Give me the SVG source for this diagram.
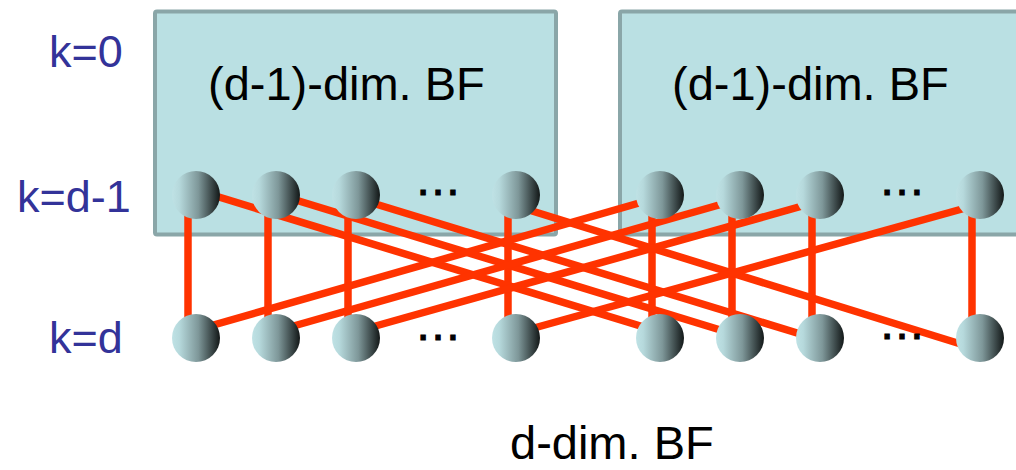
<svg xmlns="http://www.w3.org/2000/svg" width="1016" height="470" viewBox="0 0 1016 470">
<defs>
<linearGradient id="ball" x1="0" y1="0" x2="1" y2="0">
<stop offset="0" stop-color="#bfe2e5"/>
<stop offset="0.15" stop-color="#b6d9dc"/>
<stop offset="0.55" stop-color="#7e9799"/>
<stop offset="1" stop-color="#121717"/>
</linearGradient>
<style>
.box{fill:#bae0e3;stroke:#8aa6a8;stroke-width:4}
.n{fill:url(#ball)}
.e{stroke:#ff3300;stroke-width:7.5;fill:none}
.lbl{font-family:"Liberation Sans",Arial,sans-serif;font-size:45px;fill:#333399}
.t{font-family:"Liberation Sans",Arial,sans-serif;font-size:47px;fill:#000}
.dots{font-family:"Liberation Sans",Arial,sans-serif;font-size:47px;fill:#000;stroke:#000;stroke-width:1}
</style>
</defs>
<rect width="1016" height="470" fill="#fff"/>
<g id="box-left"><rect class="box" x="155" y="11.5" width="401" height="223" rx="2"/><text class="t" x="208" y="100">(d-1)-dim. BF</text></g>
<g id="box-right"><rect class="box" x="620" y="11.5" width="420" height="223" rx="2"/><text class="t" x="672" y="100">(d-1)-dim. BF</text></g>
<g id="labels">
<text class="lbl" x="49" y="67">k=0</text>
<text class="lbl" x="17" y="212">k=d-1</text>
<text class="lbl" x="49" y="353">k=d</text>
</g>
<g id="connectors">
<line class="e" x1="188" y1="195" x2="188" y2="338"/>
<line class="e" x1="268" y1="195" x2="268" y2="338"/>
<line class="e" x1="348" y1="195" x2="348" y2="338"/>
<line class="e" x1="508" y1="195" x2="508" y2="338"/>
<line class="e" x1="652" y1="195" x2="652" y2="338"/>
<line class="e" x1="732" y1="195" x2="732" y2="338"/>
<line class="e" x1="812" y1="195" x2="812" y2="338"/>
<line class="e" x1="972" y1="195" x2="972" y2="338"/>
<line class="e" x1="196" y1="190" x2="660" y2="332"/>
<line class="e" x1="276" y1="194" x2="740" y2="336"/>
<line class="e" x1="356" y1="198" x2="820" y2="340"/>
<line class="e" x1="516" y1="206" x2="980" y2="350"/>
<line class="e" x1="660" y1="197" x2="196" y2="330"/>
<line class="e" x1="740" y1="199" x2="276" y2="331"/>
<line class="e" x1="820" y1="201" x2="356" y2="331.5"/>
<line class="e" x1="980" y1="204" x2="516" y2="333"/>
</g>
<g id="top-nodes">
<circle id="t1" class="n" cx="196" cy="195" r="24"/>
<circle id="t2" class="n" cx="276" cy="195" r="24"/>
<circle id="t3" class="n" cx="356" cy="195" r="24"/>
<circle id="t4" class="n" cx="516" cy="195" r="24"/>
<circle id="t5" class="n" cx="660" cy="195" r="24"/>
<circle id="t6" class="n" cx="740" cy="195" r="24"/>
<circle id="t7" class="n" cx="820" cy="195" r="24"/>
<circle id="t8" class="n" cx="980" cy="195" r="24"/>
</g>
<g id="bottom-nodes">
<circle id="b1" class="n" cx="196" cy="338" r="24"/>
<circle id="b2" class="n" cx="276" cy="338" r="24"/>
<circle id="b3" class="n" cx="356" cy="338" r="24"/>
<circle id="b4" class="n" cx="516" cy="338" r="24"/>
<circle id="b5" class="n" cx="660" cy="338" r="24"/>
<circle id="b6" class="n" cx="740" cy="338" r="24"/>
<circle id="b7" class="n" cx="820" cy="338" r="24"/>
<circle id="b8" class="n" cx="980" cy="338" r="24"/>
</g>
<g id="ellipses">
<text class="dots" x="438" y="195" text-anchor="middle">…</text>
<text class="dots" x="902" y="195" text-anchor="middle">…</text>
<text class="dots" x="438" y="340" text-anchor="middle">…</text>
<text class="dots" x="902" y="339" text-anchor="middle">…</text>
</g>
<g id="caption"><text class="t" x="510" y="459">d-dim. BF</text></g>
</svg>
